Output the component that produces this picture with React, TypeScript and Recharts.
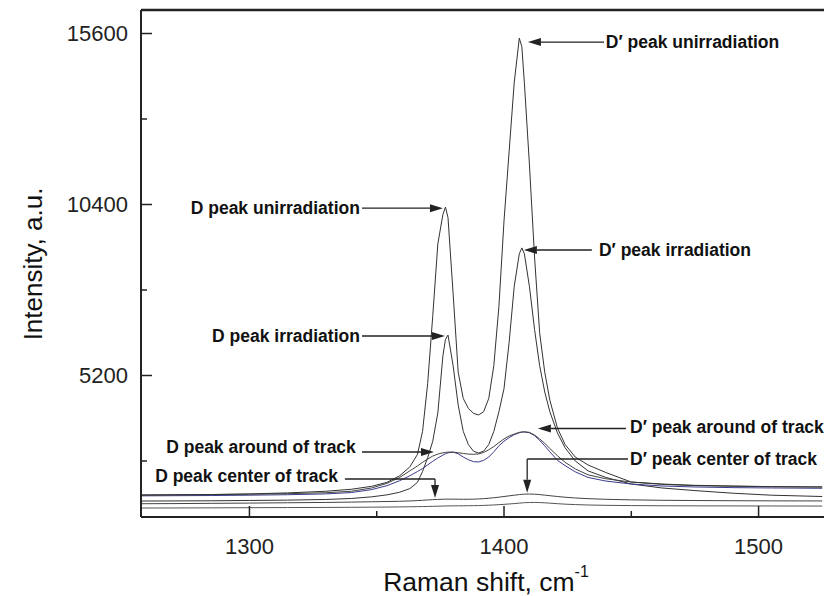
import * as React from 'react';
import { LineChart, Line, XAxis, YAxis, ReferenceLine, ReferenceDot } from 'recharts';

// Raman shift, cm-1
const shift = [1257, 1270, 1285, 1300, 1315, 1330, 1340, 1348, 1354, 1359, 1363, 1366, 1368, 1370, 1372, 1374, 1376, 1377, 1378, 1380,
    1382, 1384, 1386, 1388, 1390, 1392, 1394, 1396, 1398, 1400, 1402, 1404, 1406, 1407, 1408, 1410, 1412, 1414, 1416, 1418,
    1421, 1424, 1428, 1433, 1440, 1450, 1462, 1475, 1490, 1505, 1525];

const unirradiation = [1560, 1570, 1580, 1600, 1630, 1680, 1740, 1830, 1950, 2150, 2420, 2800, 3500, 4950, 7000, 9200, 10100, 10320, 10000, 7700,
    5300, 4500, 4200, 4050, 4000, 4100, 4500, 5500, 7300, 9900, 12000, 14100, 15460, 15200, 14100, 11600, 8800, 6500, 5300, 4450,
    3600, 3100, 2720, 2480, 2250, 1960, 1900, 1860, 1840, 1820, 1810];

const irradiation = [1383, 1385, 1390, 1400, 1410, 1430, 1460, 1510, 1570, 1650, 1760, 1950, 2280, 2700, 3200, 4060, 5800, 6300, 6430, 5500,
    4300, 3500, 3100, 2900, 2840, 2900, 3100, 3500, 4100, 4800, 6200, 7900, 8900, 9080, 8900, 7900, 6600, 5500, 4700, 4100,
    3450, 3000, 2600, 2300, 2100, 1900, 1780, 1700, 1620, 1560, 1520];

const aroundTrack = [1570, 1575, 1580, 1590, 1605, 1635, 1680, 1780, 1920, 2100, 2300, 2450, 2560, 2660, 2750, 2810, 2850, 2860, 2870, 2870,
    2850, 2830, 2810, 2805, 2815, 2860, 2940, 3040, 3160, 3270, 3360, 3420, 3470, 3480, 3490, 3470, 3390, 3270, 3140, 2980,
    2760, 2560, 2360, 2180, 2060, 1960, 1890, 1850, 1830, 1820, 1810];

const aroundTrack2 = [1540, 1545, 1550, 1560, 1575, 1600, 1640, 1730, 1850, 2000, 2150, 2280, 2370, 2480, 2590, 2690, 2780, 2820, 2850, 2870,
    2820, 2720, 2640, 2580, 2570, 2620, 2720, 2880, 3060, 3200, 3310, 3400, 3460, 3480, 3480, 3460, 3370, 3230, 3060, 2880,
    2620, 2460, 2270, 2100, 1990, 1900, 1840, 1810, 1790, 1780, 1770];

const centerTrack = [1300, 1305, 1312, 1320, 1330, 1340, 1350, 1360, 1368, 1375, 1385, 1395, 1405, 1415, 1425, 1432, 1438, 1440, 1440, 1440,
    1438, 1436, 1436, 1440, 1446, 1455, 1468, 1482, 1500, 1520, 1540, 1560, 1578, 1586, 1592, 1595, 1590, 1578, 1562, 1545,
    1520, 1498, 1475, 1455, 1435, 1418, 1405, 1398, 1392, 1388, 1385];

const centerTrack2 = [1170, 1172, 1175, 1180, 1184, 1188, 1192, 1196, 1200, 1204, 1208, 1212, 1215, 1218, 1222, 1226, 1230, 1232, 1234, 1236,
    1237, 1238, 1240, 1242, 1245, 1250, 1256, 1263, 1272, 1282, 1293, 1305, 1318, 1325, 1332, 1338, 1340, 1336, 1328, 1318,
    1302, 1288, 1274, 1262, 1252, 1244, 1239, 1236, 1234, 1232, 1230];

const xTicks = [1300, 1350, 1400, 1450, 1500];
const xLabels = [1300, 1400, 1500];
const yTicks = [2600, 5200, 7800, 10400, 13000, 15600];
const yLabels = [5200, 10400, 15600];

const X_DOMAIN = [1257.4, 1525.7];
const Y_DOMAIN = [897, 16315];

// annotation text, anchored in data units
const notes = [
    { text: 'D\u2032 peak unirradiation', x: 1440.0, y: 15341, anchor: 'start' },
    { text: 'D\u2032 peak irradiation', x: 1437.3, y: 9016, anchor: 'start' },
    { text: 'D peak unirradiation', x: 1343.4, y: 10287, anchor: 'end' },
    { text: 'D peak irradiation', x: 1343.4, y: 6401, anchor: 'end' },
    { text: 'D peak around of track', x: 1341.8, y: 3026, anchor: 'end' },
    { text: 'D peak  center of track', x: 1334.8, y: 2144, anchor: 'end' },
    { text: 'D\u2032 peak around of track', x: 1449.5, y: 3634, anchor: 'start' },
    { text: 'D\u2032 peak  center of track', x: 1449.5, y: 2661, anchor: 'start' },
];

// leader lines, last point gets the arrow when arrow is true
const leaders = [
    { from: [1439.3, 15341], to: [1409.4, 15341], arrow: true },
    { from: [1434.5, 9016], to: [1407.8, 9016], arrow: true },
    { from: [1344.2, 10287], to: [1376.0, 10287], arrow: true },
    { from: [1344.2, 6401], to: [1376.8, 6401], arrow: true },
    { from: [1344.2, 2874], to: [1372.5, 2874], arrow: true },
    { from: [1337.5, 2053], to: [1372.9, 2053], arrow: false },
    { from: [1372.9, 2053], to: [1372.9, 1474], arrow: true },
    { from: [1447.9, 3588], to: [1413.3, 3588], arrow: true },
    { from: [1448.7, 2661], to: [1409.1, 2661], arrow: false },
    { from: [1409.1, 2661], to: [1409.1, 1636], arrow: true },
];

const PLOT_LEFT = 141;
const PLOT_BOTTOM = 517;
const INK = '#222';
const FONT = '"Liberation Sans", Arial, sans-serif';

const rows = shift.map((s, i) => ({
    x: s,
    u: unirradiation[i],
    ir: irradiation[i],
    a1: aroundTrack[i],
    a2: aroundTrack2[i],
    c1: centerTrack[i],
    c2: centerTrack2[i],
}));

const YTick = (props: any) => {
    const { y, payload } = props;
    const major = yLabels.includes(payload.value);
    return (
        <g>
            <line x1={PLOT_LEFT} x2={PLOT_LEFT + (major ? 11 : 6)} y1={y} y2={y} stroke={INK} strokeWidth={1.5} />
            {major && (
                <text x={128} y={y} textAnchor="end" dominantBaseline="central" fontSize={22} fontFamily={FONT} fill={INK}>
                    {payload.value}
                </text>
            )}
        </g>
    );
};

const XTick = (props: any) => {
    const { x, payload } = props;
    const major = xLabels.includes(payload.value);
    return (
        <g>
            <line x1={x} x2={x} y1={PLOT_BOTTOM} y2={PLOT_BOTTOM - (major ? 11 : 6)} stroke={INK} strokeWidth={1.5} />
            {major && (
                <text x={x} y={546} textAnchor="middle" dominantBaseline="central" fontSize={22} fontFamily={FONT} fill={INK}>
                    {payload.value}
                </text>
            )}
        </g>
    );
};

const Leader = (props: any) => {
    const { x1, y1, x2, y2, arrow } = props;
    const dx = x2 - x1;
    const dy = y2 - y1;
    const len = Math.sqrt(dx * dx + dy * dy) || 1;
    const ux = dx / len;
    const uy = dy / len;
    const head = 13;
    const half = 4;
    const bx = x2 - ux * head;
    const by = y2 - uy * head;
    return (
        <g>
            <line x1={x1} y1={y1} x2={arrow ? bx : x2} y2={arrow ? by : y2} stroke={INK} strokeWidth={1.3} />
            {arrow && (
                <polygon
                    points={`${x2},${y2} ${bx - uy * half},${by + ux * half} ${bx + uy * half},${by - ux * half}`}
                    fill={INK}
                />
            )}
        </g>
    );
};

const App = () => {
    return (
        <div style={{ position: 'absolute', left: 0, top: 0, width: 824, height: 596, overflow: 'hidden', background: '#fff' }}>
            <LineChart width={824} height={596} data={rows} margin={{ top: 10, right: 0, bottom: 0, left: 0 }}>
                <XAxis
                    dataKey="x"
                    type="number"
                    domain={X_DOMAIN}
                    allowDataOverflow
                    ticks={xTicks}
                    interval={0}
                    tick={XTick}
                    tickLine={false}
                    axisLine={{ stroke: INK, strokeWidth: 2 }}
                    height={79}
                />
                <YAxis
                    type="number"
                    domain={Y_DOMAIN}
                    allowDataOverflow
                    ticks={yTicks}
                    interval={0}
                    tick={YTick}
                    tickLine={false}
                    axisLine={{ stroke: INK, strokeWidth: 2 }}
                    width={141}
                />
                <ReferenceLine y={Y_DOMAIN[1]} stroke={INK} strokeWidth={2.5} />

                <Line dataKey="c2" type="linear" stroke="#555" strokeWidth={1} dot={false} isAnimationActive={false} />
                <Line dataKey="c1" type="linear" stroke="#444" strokeWidth={1} dot={false} isAnimationActive={false} />
                <Line dataKey="ir" type="linear" stroke="#333" strokeWidth={1} dot={false} isAnimationActive={false} />
                <Line dataKey="a2" type="linear" stroke="#3b3b8c" strokeWidth={1} dot={false} isAnimationActive={false} />
                <Line dataKey="a1" type="linear" stroke="#444" strokeWidth={1} dot={false} isAnimationActive={false} />
                <Line dataKey="u" type="linear" stroke="#333" strokeWidth={1} dot={false} isAnimationActive={false} />

                {leaders.map((l, k) => (
                    <ReferenceLine
                        key={'l' + k}
                        segment={[{ x: l.from[0], y: l.from[1] }, { x: l.to[0], y: l.to[1] }]}
                        shape={(p: any) => <Leader {...p} arrow={l.arrow} />}
                    />
                ))}
                {notes.map((n, k) => (
                    <ReferenceDot
                        key={'n' + k}
                        x={n.x}
                        y={n.y}
                        r={0}
                        shape={(p: any) => (
                            <text x={p.cx} y={p.cy} textAnchor={n.anchor} dominantBaseline="central"
                                fontSize={17.5} fontWeight="bold" fontFamily={FONT} fill="#111">
                                {n.text}
                            </text>
                        )}
                    />
                ))}
            </LineChart>

            {/* axis titles */}
            <svg width={824} height={596} style={{ position: 'absolute', left: 0, top: 0, pointerEvents: 'none' }}>
                <text x={486} y={582} textAnchor="middle" dominantBaseline="central" fontSize={26.5} fontFamily={FONT} fill="#111">
                    Raman shift, cm<tspan dy={-11} fontSize={16}>-1</tspan>
                </text>
                <text x={33} y={264} textAnchor="middle" dominantBaseline="central" fontSize={26} fontFamily={FONT} fill="#111"
                    transform="rotate(-90 33 264)">
                    Intensity, a.u.
                </text>
            </svg>
        </div>
    );
};

export default App;
